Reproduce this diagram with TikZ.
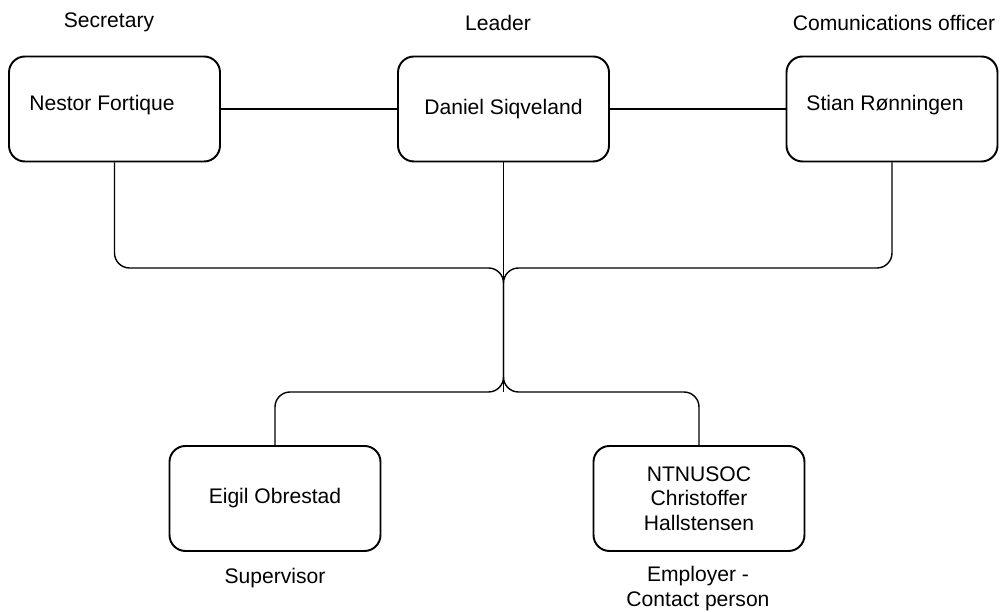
\documentclass[tikz,border=0pt]{standalone}
\usepackage{fontspec}
\setmainfont{Liberation Sans}
\usetikzlibrary{positioning}

\tikzset{
  person/.style={draw, line width=1.1pt, rounded corners=0.32cm, minimum width=4.22cm, minimum height=2.1cm, align=center, font=\fontsize{12}{14}\selectfont},
  role/.style={align=center, font=\fontsize{12}{14}\selectfont},
  link/.style={line width=0.8pt, rounded corners=0.3cm}
}

\begin{document}
\begin{tikzpicture}
\useasboundingbox (0,0) rectangle (20.08,12.24);

%% Board
\node[person, label={[role, shift={(-0.25,0.08)}]center:Nestor Fortique}] (nestor) at (2.29,10.06) {};
\node[person] (daniel) at (10.07,10.06) {Daniel Siqveland};
\node[person, label={[role, shift={(-0.14,0.08)}]center:Stian Rønningen}] (stian) at (17.84,10.06) {};

%% Outside
\node[person] (eigil) at (5.5,2.27) {Eigil Obrestad};
\node[person] (ntnusoc) at (13.98,2.27) {NTNUSOC\\Christoffer\\Hallstensen};

%% Roles
\node[role] (secretary) at (2.18,11.79) {Secretary};
\node[role] (leader) at (9.96,11.79) {Leader};
\node[role] (comms) at (17.88,11.79) {Comunications officer};
\node[role] (supervisor) at (5.5,0.68) {Supervisor};
\node[role] (employer) at (13.96,0.47) {Employer -\\Contact person};

%% Links
\coordinate (split) at (10.07,6.88);
\coordinate (merge) at (10.07,4.4);
\draw[link] (nestor.east) -- (daniel.west);
\draw[link] (daniel.east) -- (stian.west);
\draw[link] (nestor.south) |- (split) -- (merge) -| (eigil.north);
\draw[link] (stian.south) |- (split) -- (merge) -| (ntnusoc.north);
\draw[link] (daniel.south) -- (merge);

\end{tikzpicture}
\end{document}
